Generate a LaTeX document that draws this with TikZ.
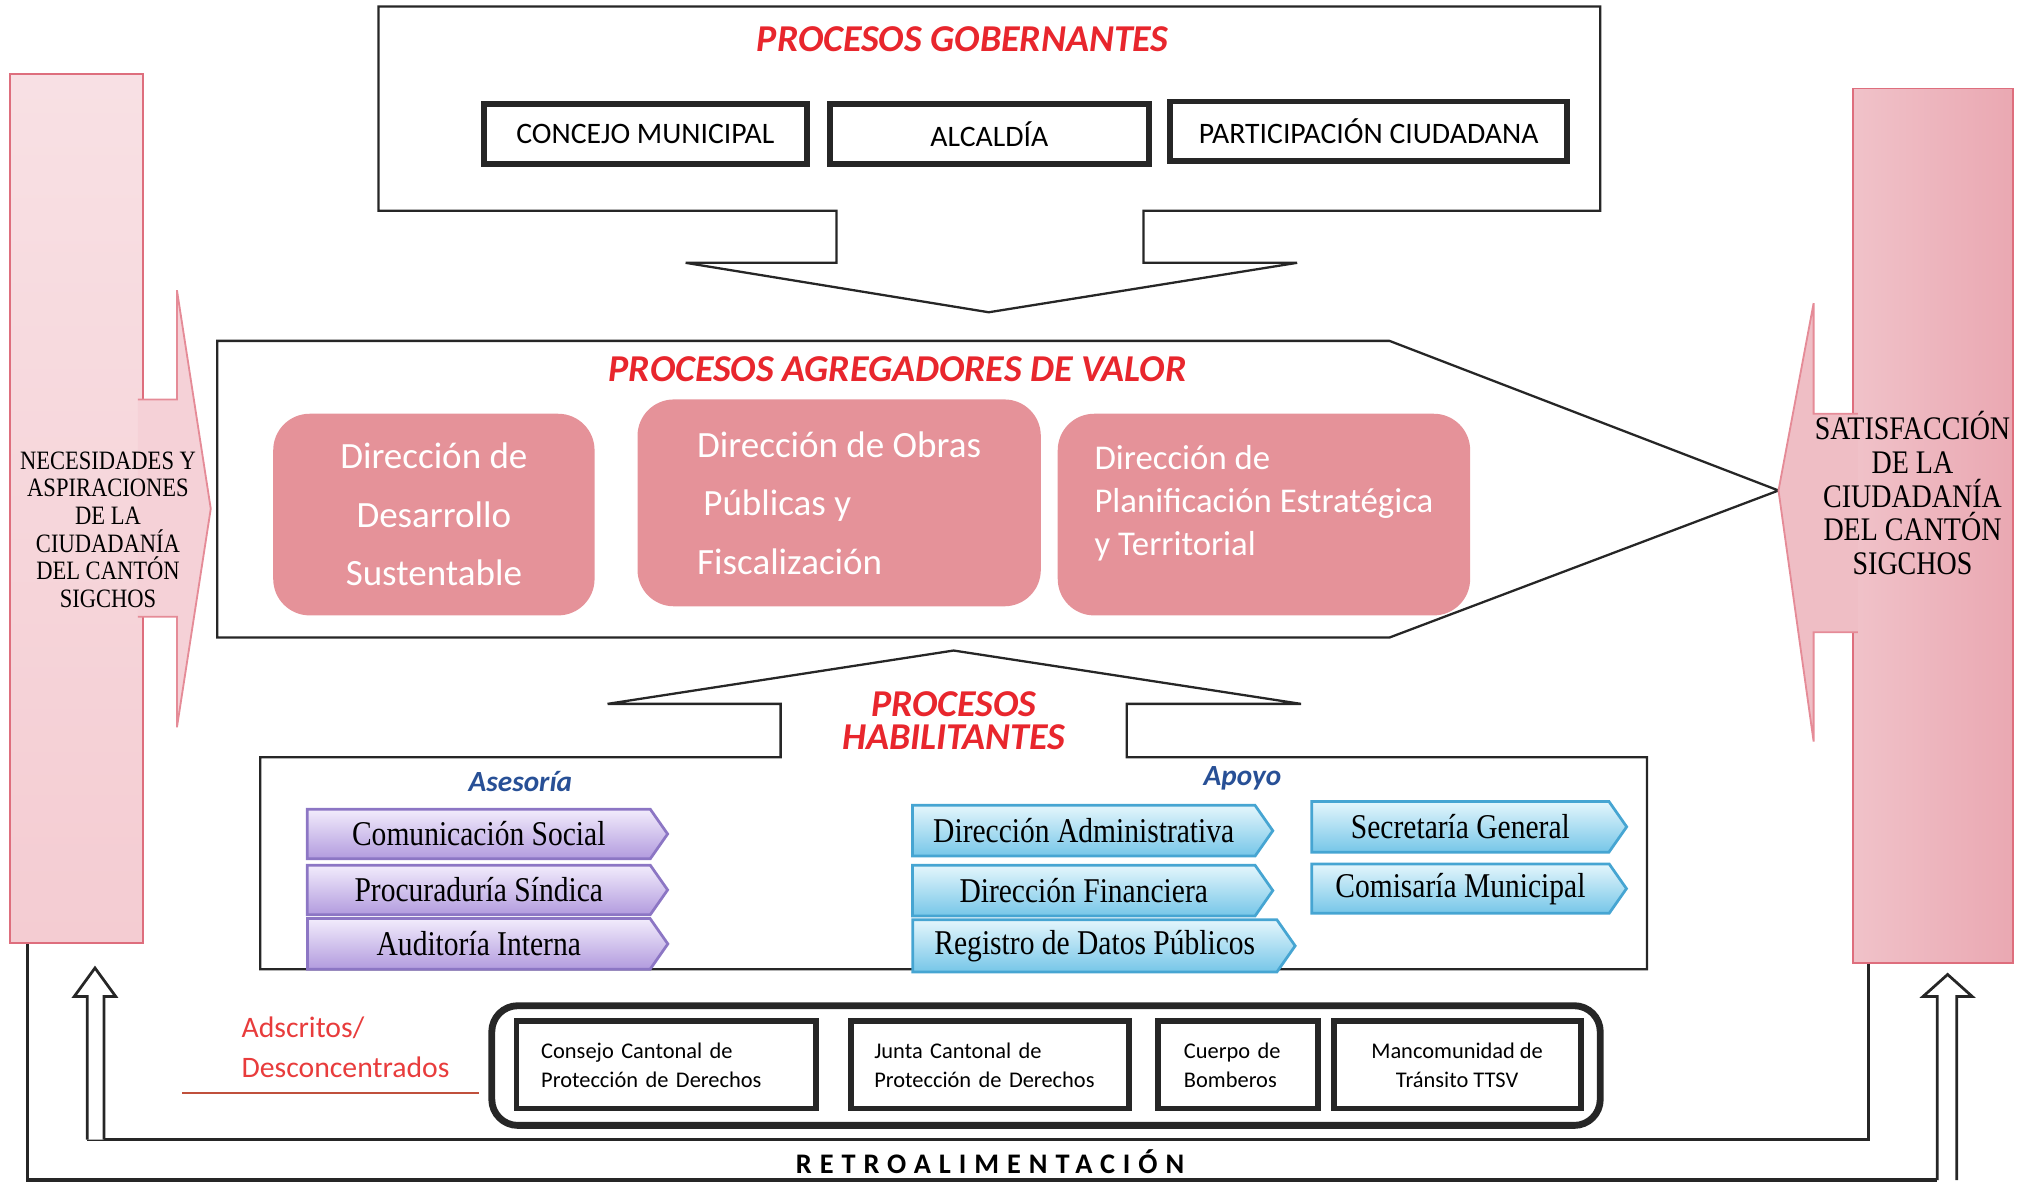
\documentclass[tikz,border=0pt]{standalone}
\usepackage{fontspec}
\setmainfont{Liberation Serif}
\newfontfamily\carlito{Carlito}
\newfontfamily\narrowtimes[FakeStretch=0.85]{Liberation Serif}
\usetikzlibrary{shapes.symbols}
\definecolor{titlered}{RGB}{232,38,45}
\definecolor{valpink}{RGB}{229,146,153}
\definecolor{colpink}{RGB}{244,204,210}
\definecolor{colpinkB}{RGB}{234,168,178}
\definecolor{colred}{RGB}{222,110,125}
\definecolor{asetop}{RGB}{242,236,252}
\definecolor{asebot}{RGB}{178,155,222}
\definecolor{asedraw}{RGB}{140,118,196}
\definecolor{apotop}{RGB}{228,246,252}
\definecolor{apobot}{RGB}{118,198,232}
\definecolor{apodraw}{RGB}{70,165,210}
\definecolor{headblue}{RGB}{40,80,150}
\definecolor{adsred}{RGB}{232,60,60}
\definecolor{lineorange}{RGB}{192,80,60}
\begin{document}
\begin{tikzpicture}[x=0.1mm, y=-0.1mm,
	frame/.style={draw=black!85, line width=0.5pt},
	title/.style={text=titlered, font=\carlito\bfseries\itshape\fontsize{8.3}{7.3}\selectfont, align=center, inner sep=0pt},
	head/.style={text=headblue, font=\carlito\bfseries\itshape\fontsize{6.4}{7}\selectfont, inner sep=0pt},
	govbox/.style={draw=black!85, line width=1.3pt, minimum height=4.6mm, inner sep=0pt, font=\carlito\fontsize{6.5}{7}\selectfont},
	valbox/.style={fill=valpink, rounded corners=2.8mm, text=white, inner sep=0pt, font=\carlito\fontsize{8.1}{12.8}\selectfont},
	chev/.style={signal, signal to=east, signal pointer angle=110, line width=0.6pt, minimum height=3.8mm, inner sep=0pt, font=\narrowtimes\fontsize{7.6}{8}\selectfont},
	asechev/.style={chev, draw=asedraw, top color=asetop, bottom color=asebot},
	apochev/.style={chev, draw=apodraw, top color=apotop, bottom color=apobot},
	adsbox/.style={draw=black!85, line width=1.3pt, minimum height=6.7mm, inner ysep=0pt, font=\carlito\fontsize{4.9}{6.3}\selectfont},
	column/.style={draw=colred, line width=0.4pt},
	colarrow/.style={draw=colred!80, line width=0.4pt},
	loopline/.style={draw=black!85, line width=0.7pt},
	hollow/.style={draw=black!85, line width=0.6pt, fill=white}]
	\useasboundingbox (0,0) rectangle (1568,916);

	\draw[frame] (291,5) -- (1230,5) -- (1230,162) -- (879,162) -- (879,202) -- (997,202) -- (760,240) -- (527,202) -- (643,202) -- (643,162) -- (291,162) -- cycle;
	\node (TG) at (740,30)	[title]	{PROCESOS GOBERNANTES};
	\node (CM) at (496,103)	[govbox, minimum width=24.8mm]	{CONCEJO MUNICIPAL};
	\node (AL) at (760.5,103)	[govbox, minimum width=24.5mm]	{ALCALDÍA};
	\node (PC) at (1052,101)	[govbox, minimum width=30.5mm]	{PARTICIPACIÓN CIUDADANA};

	\draw[frame] (167,262) -- (1068,262) -- (1367,377) -- (1068,490) -- (167,490) -- cycle;
	\node (TA) at (690,284)	[title]	{PROCESOS AGREGADORES DE VALOR};
	\node (VB1) at (333.5,395.5)	[valbox, minimum width=24.7mm, minimum height=15.5mm, align=center]	{Dirección de\\Desarrollo\\Sustentable};
	\node (VB2) at (645,386.5)	[valbox, minimum width=31mm, minimum height=15.9mm, align=left]	{Dirección de Obras\\\,Públicas y\\Fiscalización};
	\node (VB3) at (971.5,395.5)	[valbox, minimum width=31.7mm, minimum height=15.5mm, align=left, text depth=6pt, font=\carlito\fontsize{7.6}{9.4}\selectfont]	{Dirección de\\Planificación Estratégica\\y Territorial};

	\draw[frame] (200,582) -- (600,582) -- (600,541) -- (467,541) -- (733,500) -- (1000,541) -- (866,541) -- (866,582) -- (1266,582) -- (1266,745) -- (200,745) -- cycle;
	\node (TH) at (733,554)	[title]	{PROCESOS\\HABILITANTES};
	\node (AS) at (400,601)	[head]	{Asesoría};
	\node (AP) at (955,598)	[head]	{Apoyo};
	\node (CS) at (368,641)	[asechev, minimum width=27.7mm]	{Comunicación Social};
	\node (PS) at (368,684)	[asechev, minimum width=27.7mm]	{Procuraduría Síndica};
	\node (AI) at (368,725.5)	[asechev, minimum width=27.7mm, minimum height=3.9mm]	{Auditoría Interna};
	\node (DA) at (833,638.5)	[apochev, minimum width=27.7mm, minimum height=3.9mm]	{Dirección Administrativa};
	\node (DF) at (833,684.5)	[apochev, minimum width=27.7mm, minimum height=3.9mm]	{Dirección Financiera};
	\node (RD) at (841.5,727)	[apochev, minimum width=29.4mm, minimum height=4mm]	{Registro de Datos Públicos};
	\node (SG) at (1122.5,635.5)	[apochev, minimum width=24.2mm, minimum height=3.9mm]	{Secretaría General};
	\node (CO) at (1122.5,683)	[apochev, minimum width=24.2mm]	{Comisaría Municipal};

	\node (AD) at (185,805)	[anchor=west, align=left, inner sep=0pt, text=adsred, font=\carlito\fontsize{6.5}{8.8}\selectfont]	{Adscritos/\\Desconcentrados};
	\coordinate (U1) at (140,840);
	\coordinate (U2) at (368,840);
	\draw[lineorange, line width=0.6pt] (U1) -- (U2);
	\node (AB) at (804,819)	[draw=black!85, line width=1.5pt, rounded corners=2mm, minimum width=85.2mm, minimum height=9.2mm]	{};
	\node (CC) at (512,818.5)	[adsbox, inner xsep=1.9mm, text width=19.2mm, align=left]	{Consejo Cantonal de\\Protección de Derechos};
	\node (JC) at (761,818.5)	[adsbox, inner xsep=1.8mm, text width=17.8mm, align=left]	{Junta Cantonal de\\Protección de Derechos};
	\node (CB) at (951.5,818.5)	[adsbox, inner xsep=2mm, text width=8.3mm, align=left]	{Cuerpo de\\Bomberos};
	\node (MT) at (1120,818.5)	[adsbox, inner xsep=0pt, minimum width=19mm, align=center]	{Mancomunidad de\\Tránsito TTSV};

	\node (NEC) at (59,391)	[column, top color=colpink!60, bottom color=colpink, minimum width=10.2mm, minimum height=66.8mm]	{};
	\draw[colarrow, fill=colpink!90] (106,307) -- (136,307) -- (136,223) -- (162,391) -- (136,559) -- (136,474) -- (106,474);
	\node (SAT) at (1485.5,404)	[column, left color=colpinkB!70, right color=colpinkB, minimum width=12.3mm, minimum height=67.2mm]	{};
	\draw[colarrow, fill=colpinkB!75] (1428,318) -- (1394,318) -- (1394,233) -- (1367,377) -- (1394,570) -- (1394,486) -- (1428,486);
	\node (NT) at (83,407)	[align=center, inner sep=0pt, font=\narrowtimes\fontsize{5.8}{6.05}\selectfont]	{NECESIDADES Y\\ASPIRACIONES\\DE LA\\CIUDADANÍA\\DEL CANTÓN\\SIGCHOS};
	\node (ST) at (1470,379)	[align=center, inner sep=0pt, font=\narrowtimes\fontsize{7.2}{7.4}\selectfont]	{SATISFACCIÓN\\DE LA\\CIUDADANÍA\\DEL CANTÓN\\SIGCHOS};

	\coordinate (OB) at (1489,907);
	\coordinate (IB) at (67,876);
	\draw[loopline] ([xshift=1.4mm]NEC.south west) |- (OB);
	\draw[loopline] ([xshift=1.3mm]SAT.south west) |- (IB);
	\draw[hollow] (67,876) -- (67,766) -- (57,766) -- (73,744) -- (89,766) -- (80,766) -- (80,876);
	\draw[hollow] (1489,907) -- (1489,766) -- (1478,766) -- (1497,749) -- (1516,766) -- (1504,766) -- (1504,907);
	\node (RT) at (761,893)	[inner sep=0pt, font=\carlito\bfseries\fontsize{6.2}{7}\selectfont\addfontfeature{LetterSpace=28}]	{RETROALIMENTACIÓN};
\end{tikzpicture}
\end{document}
